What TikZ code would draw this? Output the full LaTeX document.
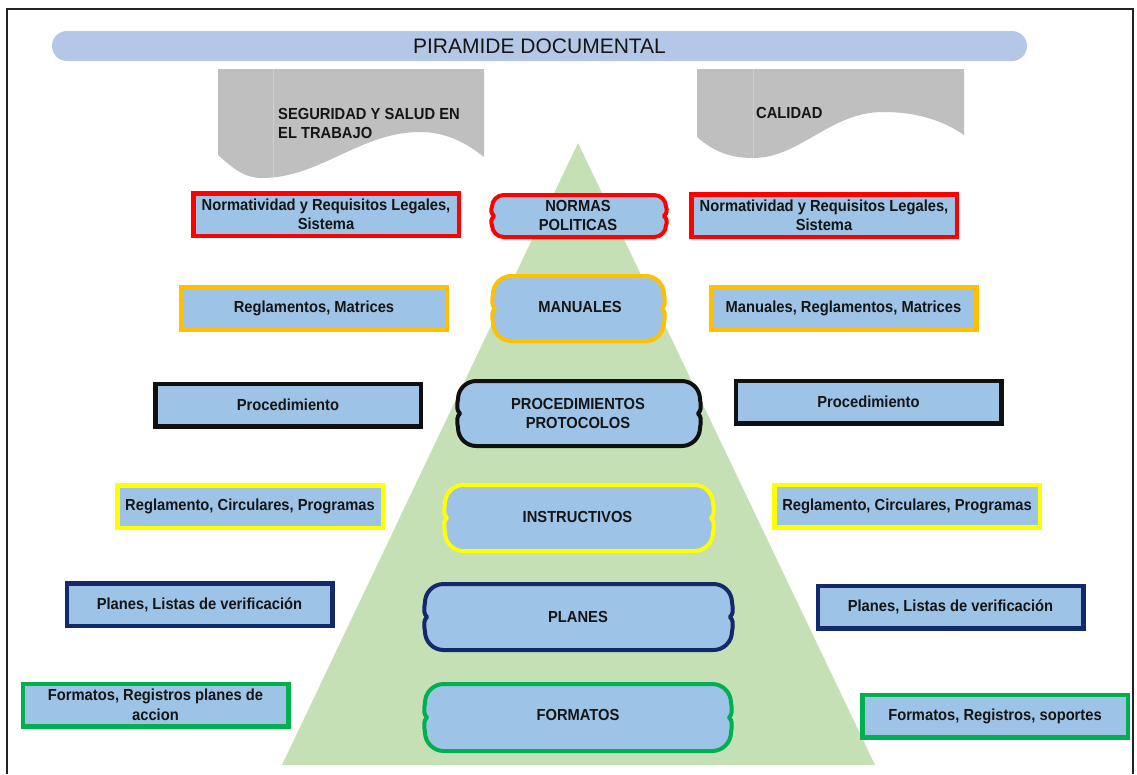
\documentclass[tikz,border=0pt]{standalone}
\usepackage{fontspec}
\setmainfont{Liberation Sans}
\newfontfamily\bcond[FakeStretch=0.92]{Liberation Sans}
\definecolor{boxfill}{HTML}{9DC3E6}
\definecolor{trifill}{HTML}{C5E0B4}
\definecolor{docgray}{HTML}{BFBFBF}
\definecolor{docline}{HTML}{CFCFCF}
\definecolor{barfill}{HTML}{B4C7E7}
\definecolor{cred}{HTML}{FF0000}
\definecolor{corange}{HTML}{FFC000}
\definecolor{cblack}{HTML}{101010}
\definecolor{cyellow}{HTML}{FFFF00}
\definecolor{cnavy}{HTML}{12296A}
\definecolor{cgreen}{HTML}{00B050}
\definecolor{txt}{HTML}{151515}
\definecolor{framec}{HTML}{222222}
\tikzset{
  sidebox/.style={draw, line width=4.5pt, fill=boxfill, minimum width=265.5pt,
    minimum height=42.5pt, inner sep=2pt, align=center, text=txt,
    font=\bcond\bfseries\fontsize{16}{19.5}\selectfont},
  plaque/.style={line width=4pt, fill=boxfill, line join=round},
  lbl/.style={inner sep=0pt, align=center, text=txt,
    font=\bcond\bfseries\fontsize{16}{19}\selectfont},
  doclbl/.style={inner sep=0pt, align=left, text=txt,
    font=\bcond\bfseries\fontsize{16}{19.5}\selectfont},
  titlebar/.style={fill=barfill, rounded corners=15pt, minimum width=975pt,
    minimum height=30pt, inner sep=0pt, text=txt, font=\fontsize{21}{24}\selectfont},
}
\newcommand{\plaqueshape}[5]{%
  \pgfmathsetmacro{\plA}{#1}\pgfmathsetmacro{\plB}{#2}%
  \pgfmathsetmacro{\plC}{#3}\pgfmathsetmacro{\plD}{#4}%
  \pgfmathsetmacro{\plR}{0.28*(\plD-\plB)}%
  \pgfmathsetmacro{\plM}{(\plB+\plD)/2}%
  \draw[plaque, draw=#5] (\plA+\plR,\plB) -- (\plC-\plR,\plB)
    .. controls (\plC-0.45*\plR,\plB) and (\plC,\plB+0.45*\plR) .. (\plC,\plB+\plR)
    .. controls (\plC+1.5,\plM-6) and (\plC+1,\plM-3) .. (\plC-2,\plM)
    .. controls (\plC+1,\plM+3) and (\plC+1.5,\plM+6) .. (\plC,\plD-\plR)
    .. controls (\plC,\plD-0.45*\plR) and (\plC-0.45*\plR,\plD) .. (\plC-\plR,\plD)
    -- (\plA+\plR,\plD)
    .. controls (\plA+0.45*\plR,\plD) and (\plA,\plD-0.45*\plR) .. (\plA,\plD-\plR)
    .. controls (\plA-1.5,\plM+6) and (\plA-1,\plM+3) .. (\plA+2,\plM)
    .. controls (\plA-1,\plM-3) and (\plA-1.5,\plM-6) .. (\plA,\plB+\plR)
    .. controls (\plA,\plB+0.45*\plR) and (\plA+0.45*\plR,\plB) .. (\plA+\plR,\plB)
    -- cycle;
}
\begin{document}
\begin{tikzpicture}[x=1pt, y=-1pt]
\useasboundingbox (0,0) rectangle (1137,774);
\fill[white] (0,0) rectangle (1137,774);
% frame
\draw[line width=2pt, framec] (7,774) -- (7,9) -- (1133,9) -- (1133,774);
% title bar
\node[titlebar] (title) at (539.5,46) {PIRAMIDE DOCUMENTAL};
% document shapes
\fill[docgray] (218,69) -- (484,69) -- (484,157)
  .. controls (465,142) and (445,132) .. (420,132)
  .. controls (360,132) and (320,178) .. (262,178)
  .. controls (245,178) and (235,170) .. (218,155) -- cycle;
\draw[docline, line width=0.6pt] (273,69) -- (273,177);
\fill[docgray] (697,69) -- (964,69) -- (964,135)
  .. controls (945,122) and (920,112) .. (883,112)
  .. controls (830,112) and (800,158) .. (753,158)
  .. controls (725,158) and (710,148) .. (697,137) -- cycle;
\draw[docline, line width=0.6pt] (753,69) -- (753,158);
\node[doclbl, anchor=north west] (sst) at (278,108) {SEGURIDAD Y SALUD EN\\EL TRABAJO};
\node[doclbl, anchor=west] (cal) at (756,112.5) {CALIDAD};
% pyramid
\fill[trifill] (578,143) -- (875,765) -- (282,765) -- cycle;
% central plaques
\plaqueshape{492}{195}{666}{237}{cred}
\plaqueshape{493}{276}{664}{341}{corange}
\plaqueshape{458}{381}{700}{446}{cblack}
\plaqueshape{445}{485}{713}{551}{cyellow}
\plaqueshape{425}{584}{732}{650}{cnavy}
\plaqueshape{425}{684}{731}{751}{cgreen}
\node[lbl] (c1) at (578,215.5) {NORMAS\\POLITICAS};
\node[lbl] (c2) at (580,306.5) {MANUALES};
\node[lbl] (c3) at (578,413) {PROCEDIMIENTOS\\PROTOCOLOS};
\node[lbl] (c4) at (577.5,516.5) {INSTRUCTIVOS};
\node[lbl] (c5) at (578,616.5) {PLANES};
\node[lbl] (c6) at (578,715) {FORMATOS};
% left boxes
\node[sidebox, draw=cred] (l1) at (326,214.5) {Normatividad y Requisitos Legales,\\Sistema};
\node[sidebox, draw=corange] (l2) at (314,308.5) {Reglamentos, Matrices};
\node[sidebox, draw=cblack] (l3) at (288,405) {Procedimiento};
\node[sidebox, draw=cyellow] (l4) at (250,506.5) {Reglamento, Circulares, Programas};
\node[sidebox, draw=cnavy] (l5) at (199.5,604.5) {Planes, Listas de verificación};
\node[sidebox, draw=cgreen] (l6) at (155.5,705) {Formatos, Registros planes de\\accion};
% right boxes
\node[sidebox, draw=cred] (r1) at (824,215.5) {Normatividad y Requisitos Legales,\\Sistema};
\node[sidebox, draw=corange] (r2) at (843.5,308) {Manuales, Reglamentos, Matrices};
\node[sidebox, draw=cblack] (r3) at (868.5,402) {Procedimiento};
\node[sidebox, draw=cyellow] (r4) at (907,506) {Reglamento, Circulares, Programas};
\node[sidebox, draw=cnavy] (r5) at (950.5,607) {Planes, Listas de verificación};
\node[sidebox, draw=cgreen] (r6) at (995,716) {Formatos, Registros, soportes};
\end{tikzpicture}
\end{document}
